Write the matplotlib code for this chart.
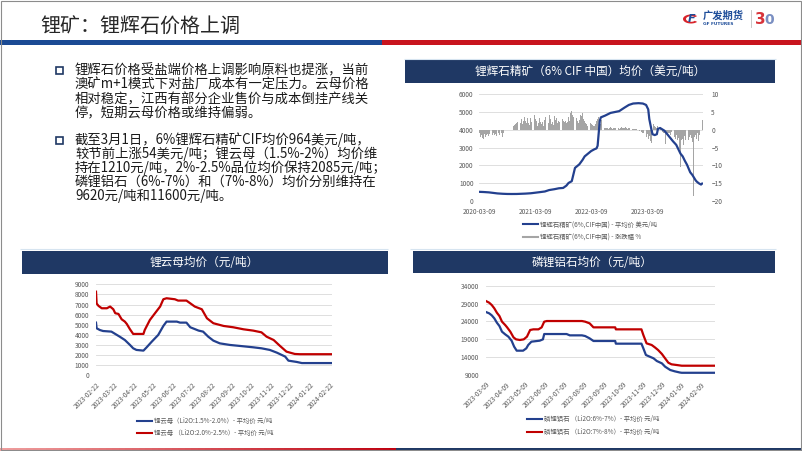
import matplotlib
matplotlib.use('Agg')
import matplotlib.pyplot as plt
from matplotlib.patches import Rectangle, Wedge
from matplotlib.lines import Line2D
import numpy as np
import pandas as pd

plt.rcParams['font.family'] = ['Noto Sans CJK SC', 'DejaVu Sans']

# ---------------- data ----------------
title_text = '锂矿：锂辉石价格上调'
para1 = ['锂辉石价格受盐端价格上调影响原料也提涨，当前',
         '澳矿m+1模式下对盐厂成本有一定压力。云母价格',
         '相对稳定，江西有部分企业售价与成本倒挂产线关',
         '停，短期云母价格或维持偏弱。']
para2 = ['截至3月1日，6%锂辉石精矿CIF均价964美元/吨，',
         '较节前上涨54美元/吨；锂云母（1.5%-2%）均价维',
         '持在1210元/吨，2%-2.5%品位均价保持2085元/吨；',
         '磷锂铝石（6%-7%）和（7%-8%）均价分别维持在',
         '9620元/吨和11600元/吨。']

# Chart 1: spodumene (weeks since 2020-03-09)
spd_start = '2020-03-09'
spd_weeks = [0, 4, 9, 13, 17, 22, 26, 30, 35, 39, 43, 48, 52, 56, 61, 65, 70, 74, 78, 81,
             83, 86, 88, 89, 91, 93, 96, 98, 100, 102, 104, 107, 109, 110, 111, 112, 113,
             115, 117, 122, 126, 130, 135, 139, 143, 148, 152, 155, 157, 158, 160, 161,
             163, 165, 166, 168, 172, 174, 176, 178, 180, 183, 185, 187, 189, 191, 193,
             196, 198, 200, 201, 202, 204, 206, 207]
spd_price = [500, 490, 470, 440, 410, 390, 380, 378, 380, 390, 400, 420, 450, 480, 520, 600,
             650, 700, 720, 850, 1000, 1100, 1600, 1850, 1950, 2050, 2300, 2500, 2600, 2700,
             2800, 2900, 2950, 3100, 3800, 4500, 4700, 4750, 4800, 4950, 5000, 5050, 5250,
             5400, 5480, 5500, 5480, 5400, 5150, 4600, 4000, 3750, 3700, 3750, 4050, 4100,
             3950, 3800, 3650, 3500, 3350, 3150, 2900, 2650, 2500, 2250, 2030, 1600, 1450,
             1250, 1150, 1080, 980, 910, 964]
bar_weeks = ([0, 1, 2, 3, 4, 5, 6, 7, 8, 9, 10, 11, 12, 13, 14, 15, 16, 18, 19, 21, 22, 23]
             + list(range(32, 208)))
bar_pct = ([-1.0, -2.1, -1.6, -2.4, -2.6, -1.2, -2.0, -1.5, -1.1, -1.7, -1.3, -2.2, -1.4,
            -1.0, -1.6, -1.2, -1.8, -1.0, -1.5, -0.8, -1.9, -1.0]
           + [1.0, 1.3, 1.5, 1.8, 2.3, 1.5, 2.0, 2.9, 1.6, 2.4,
              3.7, 2.5, 1.8, 3.2, 2.0, 1.4, 3.2, 2.2, 1.6, 4.3,
              3.0, 2.6, 1.2, 2.0, 3.4, 2.2, 1.5, 2.3, 1.2, 2.8,
              3.7, 2.4, 1.8, 4.1, 3.0, 1.6, 2.2, 1.4, 4.0, 2.8,
              3.3, 1.9, 2.5, 2.3, 1.7, 3.0, 2.6, 2.2, 2.5, 1.8,
              2.1, 3.7, 2.6, 4.6, 5.3, 4.2, 3.5, 2.9, 3.2, 2.4,
              1.8, 2.7, 4.3, 3.8, 4.6, 2.9, 2.4, 2.0, 1.5, 1.2,
              1.0, 1.8, 1.6, 1.3, 1.0, 1.2, 1.5, 2.4, 3.0, 3.7,
              2.2, 1.5, 2.8]
           + [0.8, 0.6, 0.5, 0.4, 0.6, 0.3, 0.5, 0.7, 0.4, 0.3,
              0.6, 0.5, 0.4, 0.8, 0.5, 0.3, 0.6, 0.7, 0.5, 0.4,
              0.6, 0.8, 0.5, 0.3, 0.4, 0.6, 0.3, 0.2, 0.3, 0.2,
              0.1, 0.2, -0.2, -0.1, -0.3, -0.2]
           + [-0.5, -0.8, -1.0, -1.5, -2.0, -1.2, -2.5, -1.8, -3.2, -3.8,
              -1.0, 1.5, 1.2, 0.8, 0.5, 1.0, 0.6, 0.4, 0.3, -0.5,
              -0.8, -1.0, -4.0, -0.6, -1.2, -0.8, -1.0, -1.5, -0.7, -1.3,
              -2.0, -2.6, -1.5, -3.0, -2.2, -5.5, -10.5, -3.0, -2.5, -4.2,
              -1.8, -2.8, -1.6, -3.0, -2.0, -1.4, -2.2, -3.5, -18.6, -2.0,
              -1.5, -2.5, -1.0, -3.2, -1.5, -0.8, 2.8])
spd_xticks = ['2020-03-09', '2021-03-09', '2022-03-09', '2023-03-09']

# Chart 2: lepidolite (days since 2023-02-22)
mica_start = '2023-02-22'
mica_red_days = [0, 1, 4, 9, 17, 22, 27, 30, 35, 40, 45, 48, 53, 58, 74, 76, 84, 92, 100, 105,
                 110, 123, 128, 141, 147, 154, 165, 173, 183, 199, 214, 230, 245, 258, 266,
                 277, 287, 297, 310, 318, 368]
mica_red = [8270, 7100, 6860, 6630, 6630, 6800, 6530, 6140, 6070, 5540, 5310, 5080, 4550,
            4090, 4090, 4480, 5470, 6140, 6800, 7520, 7620, 7520, 7390, 7390, 7120, 6800,
            6530, 5640, 5150, 4880, 4750, 4550, 4420, 4250, 3820, 3490, 2900, 2340, 2110,
            2085, 2085]
mica_blue_days = [0, 1, 6, 11, 24, 30, 37, 45, 53, 58, 63, 74, 79, 87, 97, 105, 110, 126, 131,
                  141, 147, 160, 167, 175, 183, 193, 209, 225, 245, 258, 271, 282, 295, 300,
                  313, 321, 368]
mica_blue = [5210, 4650, 4480, 4380, 4320, 4090, 3820, 3490, 3000, 2670, 2510, 2440, 2770,
             3330, 3990, 4880, 5310, 5310, 5210, 5210, 4750, 4420, 4320, 3820, 3430, 3160,
             3000, 2900, 2770, 2670, 2510, 2240, 1850, 1450, 1320, 1210, 1210]
mica_ticks = ['2023-02-22', '2023-03-22', '2023-04-22', '2023-05-22', '2023-06-22',
              '2023-07-22', '2023-08-22', '2023-09-22', '2023-10-22', '2023-11-22',
              '2023-12-22', '2024-01-22', '2024-02-22']

# Chart 3: amblygonite (days since 2023-03-09)
amb_start = '2023-03-09'
amb_red_days = [0, 5, 9, 13, 17, 21, 25, 30, 33, 38, 43, 47, 53, 59, 64, 69, 74, 82, 87, 91,
                95, 150, 155, 162, 168, 202, 203, 243, 246, 251, 259, 264, 269, 275, 280,
                285, 290, 298, 306, 358]
amb_red = [29700, 29240, 28590, 27660, 26440, 25510, 23930, 22990, 22340, 21130, 19540,
           18980, 18800, 18980, 19730, 21600, 21780, 21780, 22340, 23930, 24110, 24110,
           23930, 23460, 22340, 22340, 21780, 21780, 20190, 17860, 17400, 16740, 16000,
           14880, 13660, 12450, 11990, 11800, 11600, 11600]
amb_blue_days = [0, 5, 9, 13, 17, 21, 25, 30, 35, 40, 44, 48, 58, 63, 66, 71, 84, 89, 91,
                 126, 131, 150, 155, 162, 168, 202, 203, 243, 246, 250, 256, 262, 267, 275,
                 280, 288, 295, 303, 306, 358]
amb_blue = [26630, 26260, 25700, 24860, 23650, 22710, 21130, 20380, 19730, 18610, 16930,
            15810, 15810, 16460, 17400, 18330, 18610, 18980, 20470, 20470, 20100, 20100,
            19910, 19260, 18520, 18520, 17770, 17770, 16460, 14600, 14130, 13660, 12920,
            12260, 11330, 10400, 10030, 9700, 9620, 9620]
amb_ticks = ['2023-03-09', '2023-04-09', '2023-05-09', '2023-06-09', '2023-07-09',
             '2023-08-09', '2023-09-09', '2023-10-09', '2023-11-09', '2023-12-09',
             '2024-01-09', '2024-02-09']

# ---------------- figure ----------------
W, H = 802, 451
fig = plt.figure(figsize=(W / 100, H / 100), dpi=100)
fig.patch.set_facecolor('white')


def fx(x):
    return x / W


def fy(y):
    return 1 - y / H


def rect(x0, y0, x1, y1, color, **kw):
    fig.add_artist(Rectangle((fx(x0), fy(y1)), (x1 - x0) / W, (y1 - y0) / H,
                             transform=fig.transFigure, facecolor=color,
                             edgecolor='none', **kw))


def hline(x0, x1, y, color, lw):
    fig.add_artist(Line2D([fx(x0), fx(x1)], [fy(y), fy(y)], transform=fig.transFigure,
                          color=color, lw=lw, solid_capstyle='butt'))


NAVY = '#1F3864'
BLUE = '#23408E'
RED = '#C00000'
GRAY_T = '#595959'

# header
fig.text(fx(40), fy(27), title_text, fontsize=14.4, color='#262626', va='center', ha='left')
rect(0, 40.5, 382, 45, '#1B4A94')
rect(382, 40.5, 802, 45, '#C8141E')

# logo
fig.add_artist(Wedge((fx(691), fy(19)), 8 / W, 40, 320, width=3 / W,
                     transform=fig.transFigure, facecolor='#D8232A', edgecolor='none'))
fig.text(fx(692), fy(19.5), 'F', fontsize=8, color='#1F4E9A', fontweight='bold',
         style='italic', ha='center', va='center', family=['DejaVu Sans'])
fig.text(fx(703), fy(15.5), '广发期货', fontsize=7.4, color='#1F4E9A', fontweight='bold',
         ha='left', va='center')
fig.text(fx(703), fy(24), 'GF FUTURES', fontsize=3.2, color='#1F4E9A', fontweight='bold',
         ha='left', va='center', family=['DejaVu Sans'])
fig.add_artist(Line2D([fx(751), fx(751)], [fy(10), fy(27)], transform=fig.transFigure,
                      color='#BFBFBF', lw=0.6))
fig.text(fx(760), fy(19), '3', fontsize=11, color='#D8343A', fontweight='bold',
         ha='center', va='center', family=['DejaVu Sans'])
fig.text(fx(769.5), fy(19.5), '0', fontsize=10, color='#7A8FC2', fontweight='bold',
         ha='center', va='center', family=['DejaVu Sans'])

# body text
for i, ln in enumerate(para1):
    fig.text(fx(75), fy(70 + i * 14.5), ln, fontsize=9.6, color='#1A1A1A',
             va='center', ha='left')
for i, ln in enumerate(para2):
    fig.text(fx(75), fy(140 + i * 14.0), ln, fontsize=9.6, color='#1A1A1A',
             va='center', ha='left')
for yb in (70, 140):
    fig.add_artist(Rectangle((fx(55.5), fy(yb + 3.5)), 7 / W, 7 / H,
                             transform=fig.transFigure, facecolor='none',
                             edgecolor=NAVY, lw=1.2))

# panel lines
hline(404, 776, 59, '#D6E4F0', 0.8)
hline(20, 388, 248.5, '#D6E4F0', 0.8)
hline(410, 776, 248.5, '#D6E4F0', 0.8)

# title bands
rect(405, 60, 775, 83, NAVY)
fig.text(fx(590), fy(71.5), '锂辉石精矿（6% CIF 中国）均价（美元/吨）', fontsize=8.4,
         color='white', ha='center', va='center')
rect(22, 251, 388, 273.5, NAVY)
fig.text(fx(204), fy(262), '锂云母均价（元/吨）', fontsize=8.4, color='white',
         ha='center', va='center')
rect(413, 251, 775, 273, NAVY)
fig.text(fx(592), fy(262), '磷锂铝石均价（元/吨）', fontsize=8.4, color='white',
         ha='center', va='center')

TICK_FS = 4.7


def style_axes(ax):
    for s in ax.spines.values():
        s.set_visible(False)
    ax.tick_params(length=0, labelsize=TICK_FS, labelcolor=GRAY_T)
    ax.set_facecolor('none')


# ---------- chart 1 ----------
t0 = pd.Timestamp(spd_start)
d_price = t0 + pd.to_timedelta(np.array(spd_weeks) * 7, unit='D')
d_bar = t0 + pd.to_timedelta(np.array(bar_weeks) * 7, unit='D')
axB = fig.add_axes([fx(479), fy(200.7), (703 - 479) / W, (200.7 - 94.3) / H])
style_axes(axB)
axB.bar(d_bar, bar_pct, width=6, color='#A5A5A5', zorder=2)
axB.set_ylim(-20, 10)
axB.set_yticks(range(-20, 11, 5))
axB.grid(axis='y', color='#D9D9D9', lw=0.6)
axB.set_axisbelow(True)
axB.set_xlim(t0 - pd.Timedelta(days=1), pd.Timestamp('2024-03-03'))
axB.set_xticks(pd.to_datetime(spd_xticks))
axB.set_xticklabels(spd_xticks)
axB.tick_params(axis='x', pad=5)
axL = axB.twinx()
style_axes(axL)
axL.plot(d_price, spd_price, color=BLUE, lw=1.6, zorder=3)
axL.set_ylim(0, 6000)
axL.set_yticks(range(0, 6001, 1000))
axL.yaxis.tick_left()
axL.tick_params(axis='y', pad=4)
axB.yaxis.tick_right()
axB.tick_params(axis='y', pad=6, length=0)

fig.add_artist(Line2D([fx(523), fx(538)], [fy(224.3)] * 2, transform=fig.transFigure,
                      color=BLUE, lw=1.5))
fig.add_artist(Line2D([fx(523), fx(538)], [fy(237.3)] * 2, transform=fig.transFigure,
                      color='#A5A5A5', lw=1.5))
fig.text(fx(539.5), fy(224.3), '锂辉石精矿(6%,CIF中国) - 平均价 美元/吨', fontsize=4.6,
         color=GRAY_T, va='center', ha='left')
fig.text(fx(539.5), fy(237.3), '锂辉石精矿(6%,CIF中国) - 涨跌幅 %', fontsize=4.6,
         color=GRAY_T, va='center', ha='left')


def date_chart(rect_px, start, series, ylim, ystep, ticks, xend_days):
    x0, y0, x1, y1 = rect_px
    ax = fig.add_axes([fx(x0), fy(y1), (x1 - x0) / W, (y1 - y0) / H])
    style_axes(ax)
    s = pd.Timestamp(start)
    for days, vals, col in series:
        ax.plot(s + pd.to_timedelta(np.array(days), unit='D'), vals, color=col, lw=1.6)
    ax.set_ylim(*ylim)
    ax.set_yticks(range(ylim[0], ylim[1] + 1, ystep))
    ax.grid(axis='y', color='#D9D9D9', lw=0.6)
    ax.set_axisbelow(True)
    ax.set_xlim(s, s + pd.Timedelta(days=xend_days))
    ax.set_xticks(pd.to_datetime(ticks))
    ax.set_xticklabels(ticks, rotation=45, ha='right', rotation_mode='anchor')
    ax.tick_params(axis='x', pad=4)
    ax.tick_params(axis='y', pad=5)
    return ax


date_chart((96, 284.3, 332, 375.3), mica_start,
           [(mica_blue_days, mica_blue, BLUE), (mica_red_days, mica_red, RED)],
           (0, 9000), 1000, mica_ticks, 368)
date_chart((486, 285.7, 715, 375), amb_start,
           [(amb_blue_days, amb_blue, BLUE), (amb_red_days, amb_red, RED)],
           (9000, 34000), 5000, amb_ticks, 358)


def legend_pair(x0, y_a, y_b, txt_a, txt_b):
    for yy, col, tt in ((y_a, BLUE, txt_a), (y_b, RED, txt_b)):
        fig.add_artist(Line2D([fx(x0), fx(x0 + 15)], [fy(yy)] * 2,
                              transform=fig.transFigure, color=col, lw=1.5))
        fig.text(fx(x0 + 16.5), fy(yy), tt, fontsize=4.6, color=GRAY_T,
                 va='center', ha='left')


legend_pair(137, 421, 433.3, '锂云母（Li2O:1.5%-2.0%）- 平均价 元/吨',
            '锂云母 （Li2O:2.0%-2.5%）- 平均价 元/吨')
legend_pair(527, 419.3, 432, '磷锂铝石 （Li2O:6%-7%）- 平均价 元/吨',
            '磷锂铝石 （Li2O:7%-8%）- 平均价 元/吨')

# bottom bar with gradient on the left part
n = 60
for i in range(n):
    t = i / (n - 1)
    c = (0.94 - 0.19 * t, 0.62 - 0.62 * t, 0.62 - 0.56 * t)
    rect(396 * i / n, 448, 396 * (i + 1) / n + 0.5, 451, c)
rect(396, 448, 802, 451, NAVY)

# slide frame
fig.add_artist(Rectangle((fx(0.5), fy(450)), 800 / W, 449.5 / H, transform=fig.transFigure,
                         facecolor='none', edgecolor='#8C8C8C', lw=0.8))

fig.savefig('out.png', dpi=100, facecolor='white')
